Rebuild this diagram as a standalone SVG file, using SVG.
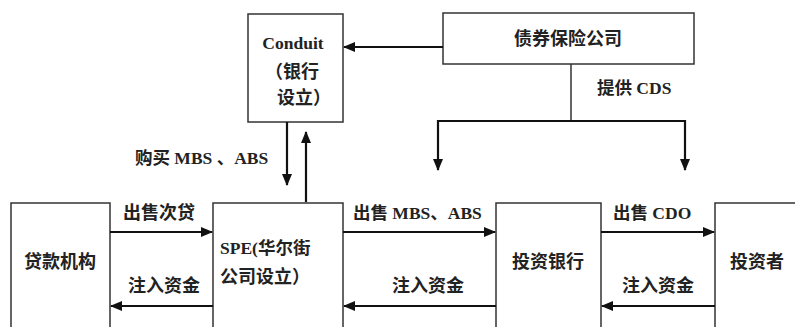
<svg xmlns="http://www.w3.org/2000/svg" width="795" height="327" viewBox="0 0 795 327">
<defs>
<marker id="ah" markerWidth="12" markerHeight="10" refX="11" refY="5" orient="auto" markerUnits="userSpaceOnUse">
<path d="M0,0 L12,5 L0,10 Z" fill="#111"/>
</marker>
<style>
.box{fill:#fff;stroke:#333;stroke-width:1.5}
.ln{fill:none;stroke:#111;stroke-width:2.2}
.thin{fill:none;stroke:#333;stroke-width:1.5}
text{font-family:"Liberation Serif","Noto Sans CJK SC",serif;font-size:17.5px;font-weight:bold;fill:#222}
.cjk{font-size:18px}
</style>
</defs>
<rect width="795" height="327" fill="#fff"/>
<g id="conduit">
<rect class="box" x="248" y="14" width="95" height="108"/>
<text x="293" y="49" text-anchor="middle">Conduit</text>
<text class="cjk" x="265" y="78">（银行</text>
<text class="cjk" x="277" y="104">设立）</text>
</g>
<g id="insurer">
<rect class="box" x="443" y="13" width="251" height="51"/>
<text class="cjk" x="568" y="45" text-anchor="middle">债券保险公司</text>
</g>
<g id="lender">
<rect class="box" x="11" y="203" width="99" height="130"/>
<text class="cjk" x="60" y="268" text-anchor="middle">贷款机构</text>
</g>
<g id="spe">
<rect class="box" x="213" y="203" width="130" height="130"/>
<text x="220" y="254">SPE(华尔街</text>
<text class="cjk" x="220" y="283">公司设立）</text>
</g>
<g id="ibank">
<rect class="box" x="496" y="203" width="105" height="130"/>
<text class="cjk" x="548" y="268" text-anchor="middle">投资银行</text>
</g>
<g id="investor">
<rect class="box" x="715" y="203" width="90" height="130"/>
<text class="cjk" x="730" y="268">投资者</text>
</g>
<g id="connectors">
<path class="ln" d="M443,47 L344,47" marker-end="url(#ah)"/>
<path class="thin" d="M571,64 L571,121"/>
<path class="ln" d="M437,121 L686,121"/>
<path class="ln" d="M438,120 L438,170" marker-end="url(#ah)"/>
<path class="ln" d="M685,120 L685,170" marker-end="url(#ah)"/>
<path class="ln" d="M287,122 L287,185" marker-end="url(#ah)"/>
<path class="ln" d="M306,202 L306,132" marker-end="url(#ah)"/>
<path class="ln" d="M110,232 L212,232" marker-end="url(#ah)"/>
<path class="ln" d="M213,306 L111,306" marker-end="url(#ah)"/>
<path class="ln" d="M343,232 L495,232" marker-end="url(#ah)"/>
<path class="ln" d="M496,306 L344,306" marker-end="url(#ah)"/>
<path class="ln" d="M601,232 L714,232" marker-end="url(#ah)"/>
<path class="ln" d="M715,306 L602,306" marker-end="url(#ah)"/>
<text x="597" y="94">提供 CDS</text>
<text x="135" y="164">购买 MBS 、ABS</text>
<text class="cjk" x="123" y="219">出售次贷</text>
<text class="cjk" x="128" y="292">注入资金</text>
<text x="353" y="219">出售 MBS、ABS</text>
<text class="cjk" x="392" y="292">注入资金</text>
<text x="613" y="219">出售 CDO</text>
<text class="cjk" x="622" y="292">注入资金</text>
</g>
</svg>
